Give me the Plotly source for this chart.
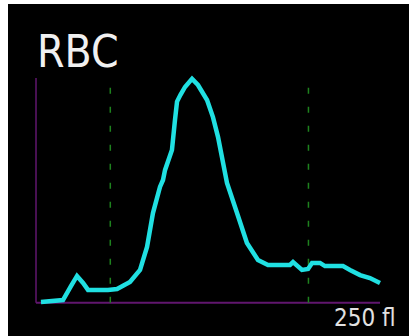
import plotly.graph_objects as go

# RBC volume distribution (cell volume in fL vs. relative count)
volume_fl = [3.6, 19.6, 25.4, 29.8, 34.2, 37.8, 52.3, 58.9, 68.3, 75.6, 80.7,
             85.0, 90.1, 92.3, 93.8, 98.8, 101.0, 102.5, 105.0, 108.3, 113.4, 117.7,
             124.3, 128.6, 132.3, 135.2, 138.8, 146.1, 153.3, 161.3, 168.6,
             184.6, 186.8, 193.3, 197.7, 200.6, 206.4, 210.0, 223.1, 228.2,
             235.5, 242.7, 247.8, 250.0]
rel_count = [0.3, 1.2, 7.4, 11.9, 8.8, 5.7, 5.7, 6.1, 9.2, 14.6, 24.8,
             39.9, 51.5, 54.6, 59.1, 68.0, 81.3, 89.5, 92.5, 96.0, 99.6, 96.9,
             90.2, 82.6, 73.7, 63.5, 53.3, 39.9, 26.6, 19.0, 16.8,
             16.8, 18.1, 14.6, 15.0, 17.7, 17.7, 16.3, 16.3, 14.6,
             12.3, 11.0, 9.2, 8.8]

# discriminator positions (fL)
discriminators = [54, 198]
x_max_fl = 250
y_top = 100
title_text = "RBC"
axis_label = "250 fl"

# pixel geometry of the plot area
W, H = 413, 336
m_l, m_r, m_t, m_b = 8, 4, 4, 0
px_x0, px_x1 = 36, 380       # 0 fL and 250 fL
px_y0, px_y1 = 302.7, 78     # count 0 and count 100
sx = (px_x1 - px_x0) / x_max_fl
sy = (px_y0 - px_y1) / y_top
x_lo = -(px_x0 - m_l) / sx
x_hi = x_max_fl + (W - m_r - px_x1) / sx
y_lo = -(H - m_b - px_y0) / sy
y_hi = y_top + (px_y1 - m_t) / sy

fig = go.Figure()
fig.add_trace(go.Scatter(
    x=volume_fl, y=rel_count, mode="lines",
    line=dict(color="rgb(32,224,226)", width=4.5, shape="linear"),
    hoverinfo="skip", showlegend=False,
))

shapes = []
axis_col = "rgb(96,22,110)"
shapes.append(dict(type="line", xref="x", yref="y", x0=0, x1=0, y0=0, y1=y_top,
                   line=dict(color=axis_col, width=1.5), layer="below"))
shapes.append(dict(type="line", xref="x", yref="y", x0=0, x1=x_max_fl, y0=0, y1=0,
                   line=dict(color=axis_col, width=2), layer="below"))
for d in discriminators:
    shapes.append(dict(type="line", xref="x", yref="y", x0=d, x1=d, y0=0, y1=y_top,
                       line=dict(color="rgb(30,130,30)", width=1.5, dash="6px,13px"),
                       layer="below"))

fig.update_layout(
    width=W, height=H,
    margin=dict(l=m_l, r=m_r, t=m_t, b=m_b),
    paper_bgcolor="white", plot_bgcolor="black",
    xaxis=dict(range=[x_lo, x_hi], visible=False, fixedrange=True),
    yaxis=dict(range=[y_lo, y_hi], visible=False, fixedrange=True),
    shapes=shapes,
    annotations=[
        dict(text=title_text, xref="x", yref="y", x=-1, y=112,
             xanchor="left", yanchor="middle", showarrow=False,
             font=dict(family="DejaVu Sans Condensed, DejaVu Sans", size=44,
                       color="rgb(240,240,240)")),
        dict(text=axis_label, xref="x", yref="y", x=x_max_fl + 13, y=-6.8,
             xanchor="right", yanchor="middle", showarrow=False,
             font=dict(family="DejaVu Sans Condensed, DejaVu Sans", size=24,
                       color="rgb(225,225,225)")),
    ],
)

fig.write_html("out.html")
